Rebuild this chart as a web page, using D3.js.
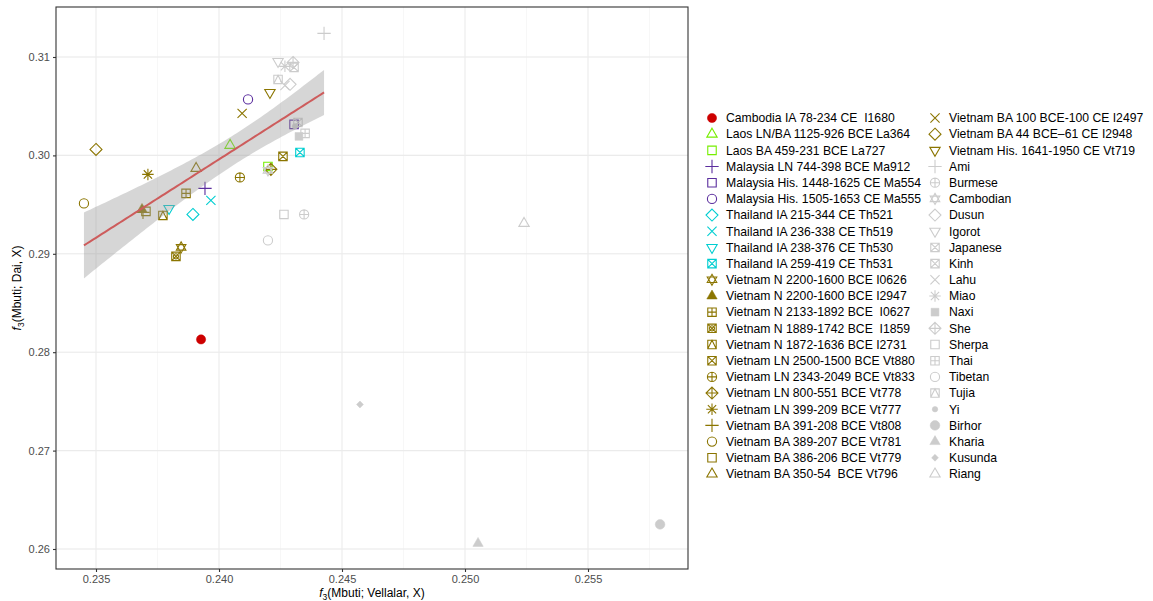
<!DOCTYPE html>
<html><head><meta charset="utf-8">
<script src="https://cdn.jsdelivr.net/npm/d3@7"></script>
<style>
body{margin:0;background:#fff;}
text{font-family:"Liberation Sans",Arial,sans-serif;}
</style></head>
<body><svg id="c" width="1153" height="601"></svg>
<script>
// ---------- data ----------
const labels = [
 "Cambodia IA 78-234 CE  I1680","Laos LN/BA 1125-926 BCE La364","Laos BA 459-231 BCE La727",
 "Malaysia LN 744-398 BCE Ma912","Malaysia His. 1448-1625 CE Ma554","Malaysia His. 1505-1653 CE Ma555",
 "Thailand IA 215-344 CE Th521","Thailand IA 236-338 CE Th519","Thailand IA 238-376 CE Th530","Thailand IA 259-419 CE Th531",
 "Vietnam N 2200-1600 BCE I0626","Vietnam N 2200-1600 BCE I2947","Vietnam N 2133-1892 BCE  I0627",
 "Vietnam N 1889-1742 BCE  I1859","Vietnam N 1872-1636 BCE I2731","Vietnam LN 2500-1500 BCE Vt880",
 "Vietnam LN 2343-2049 BCE Vt833","Vietnam LN 800-551 BCE Vt778","Vietnam LN 399-209 BCE Vt777",
 "Vietnam BA 391-208 BCE Vt808","Vietnam BA 389-207 BCE Vt781","Vietnam BA 386-206 BCE Vt779",
 "Vietnam BA 350-54  BCE Vt796","Vietnam BA 100 BCE-100 CE I2497","Vietnam BA 44 BCE\u201361 CE I2948",
 "Vietnam His. 1641-1950 CE Vt719","Ami","Burmese","Cambodian","Dusun","Igorot","Japanese","Kinh","Lahu",
 "Miao","Naxi","She","Sherpa","Thai","Tibetan","Tujia","Yi","Birhor","Kharia","Kusunda","Riang"];
const xVals = [
 0.23927,0.24045,0.24199,0.23943,0.24305,0.24118,0.23894,0.23967,0.23797,0.24329,
 0.23846,0.23687,0.23866,0.23825,0.23772,0.24260,0.24085,0.24211,0.23711,0.23691,
 0.23451,0.23703,0.23907,0.24094,0.23500,0.24207,
 0.24427,0.24346,0.24199,0.24289,0.24240,0.24305,0.24321,0.24268,0.24268,0.24325,
 0.24301,0.24264,0.24350,0.24199,0.24240,0.24309,0.25793,0.25053,0.24573,0.25240];
const yVals = [
 0.28130,0.30102,0.29888,0.29665,0.30315,0.30569,0.29400,0.29543,0.29461,0.30030,
 0.29065,0.29451,0.29614,0.28974,0.29390,0.29990,0.29776,0.29858,0.29807,0.29421,
 0.29512,0.29431,0.29868,0.30427,0.30061,0.30640,
 0.31240,0.29400,0.29848,0.30722,0.30955,0.30894,0.30335,0.30711,0.30905,0.30193,
 0.30945,0.29400,0.30224,0.29136,0.30772,0.30295,0.26250,0.26057,0.27469,0.29309];
// linear trend: ends of the fitted line and 95% band half-widths there
const fitX = [0.23451, 0.24427];
const fitY = [0.29085, 0.30640];
const fitHalfWidth = [0.00335, 0.00229];
const fitExcluded = ["Birhor","Kharia","Kusunda","Riang"];
const xTicks = [0.235,0.240,0.245,0.250,0.255];
const xTickLabels = ["0.235","0.240","0.245","0.250","0.255"];
const yTicks = [0.26,0.27,0.28,0.29,0.30,0.31];
const yTickLabels = ["0.26","0.27","0.28","0.29","0.30","0.31"];

// ---------- styles ----------
const shapes = [16,2,0,3,0,1,5,4,6,7,11,17,12,"sqcx",14,7,10,9,8,3,1,0,2,4,5,6,
 3,10,11,5,6,7,7,4,8,15,9,0,12,1,14,20,19,17,18,2];
const groupColor = {cam:"#CD0000",lao:"#76EE00",mal:"#5B2E9E",tha:"#00CED1",vie:"#8B7500",mod:"#CCCCCC"};
function colorOf(i){
  const l = labels[i];
  if(l.startsWith("Cambodia IA")) return groupColor.cam;
  if(l.startsWith("Laos")) return groupColor.lao;
  if(l.startsWith("Malaysia")) return groupColor.mal;
  if(l.startsWith("Thailand")) return groupColor.tha;
  if(l.startsWith("Vietnam")) return groupColor.vie;
  return groupColor.mod;
}

// ---------- layout ----------
const P = {l:56,r:688,t:7,b:569};
const x = d3.scaleLinear().domain([0.233374,0.259065]).range([P.l,P.r]);
const y = d3.scaleLinear().domain([0.257967,0.315081]).range([P.b,P.t]);
const svg = d3.select("#c");

function circ(r){return `M${-r},0A${r},${r} 0 1,0 ${r},0A${r},${r} 0 1,0 ${-r},0Z`;}
function sq(h){return `M${-h},${-h}H${h}V${h}H${-h}Z`;}
function triU(R){return `M0,${-R}L${R*0.866},${R*0.5}L${-R*0.866},${R*0.5}Z`;}
function triD(R){return `M0,${R}L${R*0.866},${-R*0.5}L${-R*0.866},${-R*0.5}Z`;}
function plus(L){return `M${-L},0H${L}M0,${-L}V${L}`;}
function cross(L){return `M${-L},${-L}L${L},${L}M${-L},${L}L${L},${-L}`;}
function dia(h){return `M0,${-h}L${h},0L0,${h}L${-h},0Z`;}
function shapeParts(code,s){
  switch(code){
    case 0: return [[sq(s*0.92),false]];
    case 1: return [[circ(s),false]];
    case 2: return [[triU(s*1.3),false]];
    case 3: return [[plus(s*1.45),false]];
    case 4: return [[cross(s*1.0),false]];
    case 5: return [[dia(s*1.3),false]];
    case 6: return [[triD(s*1.3),false]];
    case 7: return [[sq(s*0.92)+cross(s*0.92),false]];
    case 8: return [[plus(s*1.25)+cross(s*0.9),false]];
    case 9: return [[dia(s*1.3)+plus(s*1.3),false]];
    case 10: return [[circ(s)+plus(s),false]];
    case 11: return [[triU(s*1.2)+triD(s*1.2),false]];
    case 12: return [[sq(s*0.92)+plus(s*0.92),false]];
    case 13: return [[circ(s)+cross(s*0.7),false]];
    case 14: {const h=s*0.92; return [[sq(h)+`M${-h},${h}L0,${-h}L${h},${h}`,false]];}
    case 15: return [[sq(s*0.85),true]];
    case 16: return [[circ(s),true]];
    case 17: return [[triU(s*1.3),true]];
    case 18: return [[dia(s*0.75),true]];
    case 19: return [[circ(s*1.05),true]];
    case 20: return [[circ(s*0.6),true]];
    case "sqcx": {const h=s*0.92; return [[sq(h)+cross(h)+circ(s*0.55),false]];}
  }
  return [];
}
function drawShape(g,code,col,s){
  shapeParts(code,s).forEach(([d,f])=>{
    g.append("path").attr("d",d)
     .attr("fill",f?col:"none").attr("stroke",col)
     .attr("stroke-width",f?0.5:1.1).attr("stroke-linejoin","miter");
  });
}

// panel background and grid
svg.append("rect").attr("x",P.l).attr("y",P.t).attr("width",P.r-P.l).attr("height",P.b-P.t).attr("fill","#fff");
const gGrid = svg.append("g");
const xMinor = d3.range(0.2325,0.2600,0.005).filter(v=>x(v)>P.l&&x(v)<P.r);
const yMinor = d3.range(0.255,0.316,0.01).map(v=>v+0.005).filter(v=>y(v)>P.t&&y(v)<P.b);
xMinor.forEach(v=>gGrid.append("line").attr("x1",x(v)).attr("x2",x(v)).attr("y1",P.t).attr("y2",P.b).attr("stroke","#f2f2f2").attr("stroke-width",0.6));
yMinor.forEach(v=>gGrid.append("line").attr("y1",y(v)).attr("y2",y(v)).attr("x1",P.l).attr("x2",P.r).attr("stroke","#f2f2f2").attr("stroke-width",0.6));
xTicks.forEach(v=>gGrid.append("line").attr("x1",x(v)).attr("x2",x(v)).attr("y1",P.t).attr("y2",P.b).attr("stroke","#ebebeb").attr("stroke-width",1.1));
yTicks.forEach(v=>gGrid.append("line").attr("y1",y(v)).attr("y2",y(v)).attr("x1",P.l).attr("x2",P.r).attr("stroke","#ebebeb").attr("stroke-width",1.1));

// points
const gPts = svg.append("g");
labels.forEach((l,i)=>{
  const g = gPts.append("g").attr("transform",`translate(${x(xVals[i])},${y(yVals[i])})`);
  drawShape(g,shapes[i],colorOf(i),4.6);
});

// trend line with confidence band (hyperbolic band centred on the mean x of the fitted points)
const idx = labels.map((l,i)=>i).filter(i=>!fitExcluded.includes(labels[i]));
const xc = d3.mean(idx,i=>xVals[i]);
const dL = fitX[0]-xc, dR = fitX[1]-xc;
const Bc = (fitHalfWidth[0]**2 - fitHalfWidth[1]**2)/(dL*dL - dR*dR);
const Ac = fitHalfWidth[0]**2 - Bc*dL*dL;
const slope = (fitY[1]-fitY[0])/(fitX[1]-fitX[0]);
const grid = d3.range(0,81).map(k=>fitX[0]+(fitX[1]-fitX[0])*k/80);
const fit = grid.map(xx=>{const yh=fitY[0]+slope*(xx-fitX[0]); const hw=Math.sqrt(Math.max(0,Ac+Bc*(xx-xc)**2)); return {x:xx,y:yh,lo:yh-hw,hi:yh+hw};});
svg.append("path").datum(fit)
  .attr("d",d3.area().x(d=>x(d.x)).y0(d=>y(d.lo)).y1(d=>y(d.hi)))
  .attr("fill","#999999").attr("fill-opacity",0.4);
svg.append("path").datum(fit)
  .attr("d",d3.line().x(d=>x(d.x)).y(d=>y(d.y)))
  .attr("fill","none").attr("stroke","#CD5C5C").attr("stroke-width",2);

// panel border
svg.append("rect").attr("x",P.l).attr("y",P.t).attr("width",P.r-P.l).attr("height",P.b-P.t)
  .attr("fill","none").attr("stroke","#333333").attr("stroke-width",1.1);

// axes
const xAxis = svg.append("g").attr("transform",`translate(0,${P.b})`)
  .call(d3.axisBottom(x).tickValues(xTicks).tickFormat((d,i)=>xTickLabels[i]).tickSize(3).tickPadding(3));
const yAxis = svg.append("g").attr("transform",`translate(${P.l},0)`)
  .call(d3.axisLeft(y).tickValues(yTicks).tickFormat((d,i)=>yTickLabels[i]).tickSize(3).tickPadding(3));
[xAxis,yAxis].forEach(a=>{
  a.select(".domain").remove();
  a.selectAll(".tick line").attr("stroke","#333333").attr("stroke-width",1.1);
  a.selectAll(".tick text").attr("fill","#4d4d4d").style("font-size","11px").style("font-family","'Liberation Sans',Arial,sans-serif");
});

// axis titles
function f3Title(sel,rest){
  sel.append("tspan").attr("font-style","italic").text("f");
  sel.append("tspan").attr("font-size","8.5px").attr("dy",3).text("3");
  sel.append("tspan").attr("dy",-3).text(rest);
}
const xt = svg.append("text").attr("x",(P.l+P.r)/2).attr("y",597).attr("text-anchor","middle")
  .attr("font-size","12px").attr("fill","#000");
f3Title(xt,"(Mbuti; Vellalar, X)");
const yt = svg.append("text").attr("transform",`translate(21,${(P.t+P.b)/2}) rotate(-90)`).attr("text-anchor","middle")
  .attr("font-size","12px").attr("fill","#000");
f3Title(yt,"(Mbuti; Dai, X)");

// legend
const perCol = 23, rowH = 16.18, legTop = 118;
const colX = [712,935];
labels.forEach((l,i)=>{
  const c = Math.floor(i/perCol), r = i%perCol;
  const cy = legTop + r*rowH;
  const g = svg.append("g").attr("transform",`translate(${colX[c]},${cy})`);
  drawShape(g,shapes[i],colorOf(i),4.6);
  svg.append("text").attr("x",colX[c]+14).attr("y",cy+4.3)
    .attr("font-size","12.2px").attr("fill","#000").style("white-space","pre").text(l);
});
</script></body></html>
